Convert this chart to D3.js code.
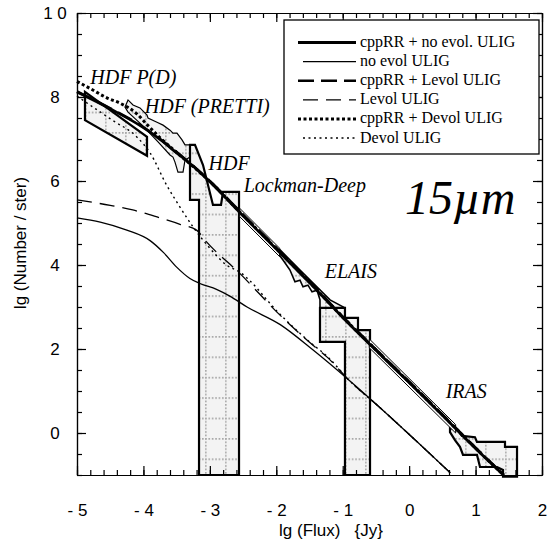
<!DOCTYPE html>
<html lang="en">
<head>
  <meta charset="UTF-8">
  <title>15 micron source counts</title>
  <script src="https://d3js.org/d3.v7.min.js"></script>
  <style>
    body { margin: 0; background: #fff; }
    svg { display: block; }
    .axis path, .axis line { stroke: #000; stroke-width: 1.2; }
    .axis text { font-family: "Liberation Sans", Arial, sans-serif; font-size: 17px; fill: #000; }
    .serif { font-family: "Liberation Serif", "Times New Roman", serif; }
  </style>
</head>
<body>
  <script>
    // ---- model curves: [lg flux, lg counts] ----
    const cppNoEvol = [[-5,8.12],[-4.5,7.72],[-4,7.27],[-3.75,6.99],[-3.5,6.67],[-3.25,6.35],[-3,5.98],
      [-2.75,5.58],[-2.5,5.17],[-2,4.38],[-1.5,3.58],[-1,2.75],[-0.5,1.97],[0,1.2],[0.5,0.42],[1,-0.37],[1.42,-1]];
    const noEvol = [[-5,5.12],[-4.65,5.02],[-4.25,4.83],[-3.9,4.58],[-3.7,4.3],[-3.5,3.95],[-3.3,3.68],[-3.15,3.56],
      [-2.9,3.42],[-2.7,3.26],[-2.44,3.0],[-1.94,2.58],[-1.45,1.98],[-0.9,1.25],[-0.45,0.62],[0.1,-0.18],[0.62,-0.95]];
    const cppLevol = [[-5,8.13],[-4.5,7.73],[-4,7.28],[-3.5,6.69],[-3,6.0],[-2.5,5.2],[-2,4.41],[-1.5,3.61],
      [-1,2.77],[-0.5,1.99],[0,1.22],[0.5,0.44],[1,-0.35],[1.43,-1]];
    const levol = [[-5,5.55],[-4.5,5.42],[-4.16,5.31],[-3.75,5.12],[-3.45,4.97],[-3.2,4.83],[-3.05,4.55],
      [-2.55,3.8],[-1.94,2.8],[-1.5,2.16],[-1.23,1.8],[-0.9,1.25],[-0.45,0.62],[0.1,-0.18],[0.62,-0.95]];
    const cppDevol = [[-5,8.37],[-4.8,8.2],[-4.55,7.98],[-4.35,7.85],[-4.1,7.6],[-3.95,7.35],[-3.75,7.03],
      [-3.5,6.68],[-3,5.99],[-2.5,5.18],[-2,4.39],[-1.5,3.59],[-1,2.76],[-0.5,1.98],[0,1.21],[0.5,0.43],[1,-0.36],[1.42,-1]];
    const devol = [[-5,8.02],[-4.75,7.75],[-4.47,7.45],[-4.1,7.05],[-3.9,6.67],[-3.65,5.9],[-3.45,5.38],[-3.25,4.9],
      [-3.0,4.4],[-2.75,4.0],[-2.55,3.83],[-1.94,2.82],[-1.5,2.17],[-1.23,1.82],[-0.9,1.25],[-0.45,0.62],[0.1,-0.18],[0.62,-0.95]];

    // ---- observed count regions ----
    const hdfPD = [[-4.88,8.12],[-4.88,7.45],[-3.946,6.6],[-3.946,7.05]];
    const hdfPretti = [[-4.277,7.76],[-4.232,7.93],[-4.157,7.81],[-4.052,7.74],[-3.946,7.57],[-3.931,7.5],[-3.796,7.4],
      [-3.705,7.33],[-3.6,7.21],[-3.555,7.14],[-3.495,7.14],[-3.419,6.98],[-3.374,6.86],[-3.299,6.86],[-3.299,6.57],
      [-3.374,6.5],[-3.404,6.21],[-3.48,6.21],[-3.525,6.45],[-3.555,6.57],[-3.6,6.62],[-3.78,6.93],[-4.02,7.33],[-4.232,7.64]];
    const hdfLockman = [[-3.163,-1],[-3.163,5.55],[-3.299,5.55],[-3.299,6.86],[-3.224,6.86],[-3.103,6.38],[-2.953,5.43],
      [-2.832,5.43],[-2.802,5.74],[-2.561,5.74],[-2.561,-1]];
    const lockmanBand = [[-2.55,5.35],[-1.95,4.4],[-1.95,4.2],[-2.55,5.15]];
    const elaisBox = [[-1.342,2.98],[-1.342,2.17],[-0.966,2.17],[-0.966,-1],[-0.589,-1],[-0.589,2.45],[-0.77,2.45],
      [-0.77,2.74],[-0.966,2.74],[-0.966,2.98]];
    const elaisStrip = [[-1.989,4.31],[-1.899,4.12],[-1.794,3.88],[-1.719,3.6],[-1.643,3.64],[-1.598,3.48],[-1.523,3.52],
      [-1.462,3.36],[-1.387,3.4],[-1.342,3.17],[-1.342,2.98],[-0.966,2.98],[-1.191,3.17],[-1.643,3.88],[-1.944,4.36]];
    const irasBand = [[-0.6,2.24],[0.7,0.2],[0.7,0.0],[-0.6,2.03]];
    const irasBox = [[0.615,0.12],[0.735,0.07],[0.796,-0.07],[0.991,-0.1],[1.021,-0.21],[1.443,-0.21],[1.443,-0.33],
      [1.624,-0.33],[1.624,-1.04],[1.413,-1.04],[1.413,-0.88],[1.323,-0.81],[1.067,-0.81],[1.021,-0.52],[0.811,-0.52],
      [0.765,-0.33],[0.69,-0.17],[0.615,0.02]];

    const xMajor = [-5,-4,-3,-2,-1,0,1,2];
    const yMajor = [0,2,4,6,8,10];
    const legendNames = ["cppRR + no evol. ULIG","no evol ULIG","cppRR + Levol ULIG","Levol ULIG","cppRR + Devol ULIG","Devol ULIG"];
    const labels = [
      {text:"HDF P(D)", x:-4.8, y:8.3},
      {text:"HDF (PRETTI)", x:-3.98, y:7.62},
      {text:"HDF", x:-3.02, y:6.26},
      {text:"Lockman-Deep", x:-2.49, y:5.74},
      {text:"ELAIS", x:-1.27, y:3.69},
      {text:"IRAS", x:0.55, y:0.83}
    ];

    const width = 549, height = 552;
    const svg = d3.select("body").append("svg").attr("width", width).attr("height", height);

    const x = d3.scaleLinear().domain([-5, 2]).range([77, 542]);
    const y = d3.scaleLinear().domain([-1, 10]).range([475, 13]);

    // dotted grey fill of the observed regions
    const pat = svg.append("defs").append("pattern")
      .attr("id", "dots").attr("patternUnits", "userSpaceOnUse")
      .attr("x", 5).attr("y", 9.6).attr("width", 20).attr("height", 20.4);
    pat.append("rect").attr("width", 20).attr("height", 20.4).attr("fill", "#f3f3f3");
    pat.append("line").attr("x1", 0).attr("x2", 20).attr("y1", 0.8).attr("y2", 0.8)
      .attr("stroke", "#aaa").attr("stroke-width", 1.7).attr("stroke-dasharray", "1.7,1.7");
    pat.append("line").attr("x1", 0.8).attr("x2", 0.8).attr("y1", 0).attr("y2", 20.4)
      .attr("stroke", "#aaa").attr("stroke-width", 1.7).attr("stroke-dasharray", "1.7,1.7");

    const poly = d3.line().x(d => x(d[0])).y(d => y(d[1]));
    const regions = [
      {d: hdfPD, w: 2.2, fill: "url(#dots)"},
      {d: hdfPretti, w: 1.2, fill: "url(#dots)"},
      {d: hdfLockman, w: 2.2, fill: "url(#dots)"},
      {d: elaisStrip, w: 1.6, fill: "url(#dots)"},
      {d: elaisBox, w: 2.2, fill: "url(#dots)"},
      {d: irasBox, w: 2.2, fill: "url(#dots)"},
      {d: lockmanBand, w: 1, fill: "#fff"},
      {d: irasBand, w: 1, fill: "#fff"}
    ];
    svg.append("g").selectAll("path").data(regions).join("path")
      .attr("d", r => poly(r.d) + "Z")
      .attr("fill", r => r.fill)
      .attr("stroke", "#000")
      .attr("stroke-width", r => r.w)
      .attr("stroke-linejoin", "miter");

    // model curves
    const models = [
      {d: noEvol, w: 1.3, dash: null},
      {d: levol, w: 1.3, dash: "15,8"},
      {d: devol, w: 1.4, dash: "2,3.5"},
      {d: cppLevol, w: 2.6, dash: "16,7"},
      {d: cppNoEvol, w: 2.8, dash: null},
      {d: cppDevol, w: 3, dash: "3,2.5"}
    ];
    const curve = d3.line().x(d => x(d[0])).y(d => y(d[1])).curve(d3.curveMonotoneX);
    svg.append("g").selectAll("path").data(models).join("path")
      .attr("d", m => curve(m.d))
      .attr("fill", "none")
      .attr("stroke", "#000")
      .attr("stroke-width", m => m.w)
      .attr("stroke-dasharray", m => m.dash);

    // axes, ticks pointing inward
    const fmtX = d => d < 0 ? "- " + Math.abs(d) : String(d);
    const fmtY = d => d === 10 ? "1 0" : String(d);
    const xMinor = d3.range(36).map(i => -5 + i * 0.2);
    const yMinor = d3.range(23).map(i => -1 + i * 0.5);

    svg.append("g").attr("class", "axis").attr("transform", `translate(0,${y(-1)})`)
      .call(d3.axisBottom(x).tickValues(xMinor).tickSize(-5).tickSizeOuter(0).tickFormat(""));
    svg.append("g").attr("class", "axis").attr("transform", `translate(0,${y(-1)})`)
      .call(d3.axisBottom(x).tickValues(xMajor).tickSize(-9).tickSizeOuter(0).tickPadding(29).tickFormat(fmtX))
      .selectAll("text").attr("xml:space", "preserve").style("white-space", "pre");
    svg.append("g").attr("class", "axis").attr("transform", `translate(0,${y(10)})`)
      .call(d3.axisTop(x).tickValues(xMinor).tickSize(-5).tickSizeOuter(0).tickFormat(""));
    svg.append("g").attr("class", "axis").attr("transform", `translate(0,${y(10)})`)
      .call(d3.axisTop(x).tickValues(xMajor).tickSize(-9).tickSizeOuter(0).tickFormat(""));

    svg.append("g").attr("class", "axis").attr("transform", `translate(${x(-5)},0)`)
      .call(d3.axisLeft(y).tickValues(yMinor).tickSize(-5).tickSizeOuter(0).tickFormat(""));
    const yl = svg.append("g").attr("class", "axis").attr("transform", `translate(${x(-5)},0)`)
      .call(d3.axisLeft(y).tickValues(yMajor).tickSize(-9).tickSizeOuter(0).tickFormat(fmtY));
    yl.selectAll("text").attr("x", -22).attr("text-anchor", "middle")
      .attr("xml:space", "preserve").style("white-space", "pre");
    svg.append("g").attr("class", "axis").attr("transform", `translate(${x(2)},0)`)
      .call(d3.axisRight(y).tickValues(yMinor).tickSize(-5).tickSizeOuter(0).tickFormat(""));
    svg.append("g").attr("class", "axis").attr("transform", `translate(${x(2)},0)`)
      .call(d3.axisRight(y).tickValues(yMajor).tickSize(-9).tickSizeOuter(0).tickFormat(""));

    svg.selectAll(".axis .domain").attr("stroke-width", 1.3);

    // axis titles
    svg.append("text")
      .attr("x", 331).attr("y", 536)
      .attr("text-anchor", "middle")
      .attr("xml:space", "preserve").style("white-space", "pre")
      .style("font-family", "Liberation Sans, Arial, sans-serif").style("font-size", "17px")
      .text("lg (Flux)   {Jy}");
    svg.append("text")
      .attr("transform", "translate(26,243) rotate(-90)")
      .attr("text-anchor", "middle")
      .style("font-family", "Liberation Sans, Arial, sans-serif").style("font-size", "17px")
      .text("lg (Number / ster)");

    // survey labels
    svg.append("g").selectAll("text").data(labels).join("text")
      .attr("class", "serif")
      .attr("x", d => x(d.x)).attr("y", d => y(d.y))
      .style("font-style", "italic").style("font-size", "20px")
      .text(d => d.text);

    svg.append("text").attr("class", "serif")
      .attr("x", 405).attr("y", 214)
      .style("font-style", "italic").style("font-size", "48px")
      .text("15\u00b5m");

    // legend
    const lg = svg.append("g");
    lg.append("rect").attr("x", 284).attr("y", 20).attr("width", 255).attr("height", 134)
      .attr("fill", "#fff").attr("stroke", "#000").attr("stroke-width", 1.3);
    const legendStyles = [models[4], models[0], models[3], models[1], models[5], models[2]];
    const rows = lg.selectAll("g").data(legendNames).join("g")
      .attr("transform", (d, i) => `translate(0,${47 + i * 19.1})`);
    rows.append("line")
      .attr("x1", (d, i) => i % 2 ? 303 : 298).attr("x2", 356)
      .attr("y1", -4.5).attr("y2", -4.5)
      .attr("stroke", "#000")
      .attr("stroke-width", (d, i) => legendStyles[i].w)
      .attr("stroke-dasharray", (d, i) => legendStyles[i].dash);
    rows.append("text").attr("class", "serif")
      .attr("x", 360).attr("y", 0)
      .style("font-size", "16px")
      .text(d => d);
  </script>
</body>
</html>
